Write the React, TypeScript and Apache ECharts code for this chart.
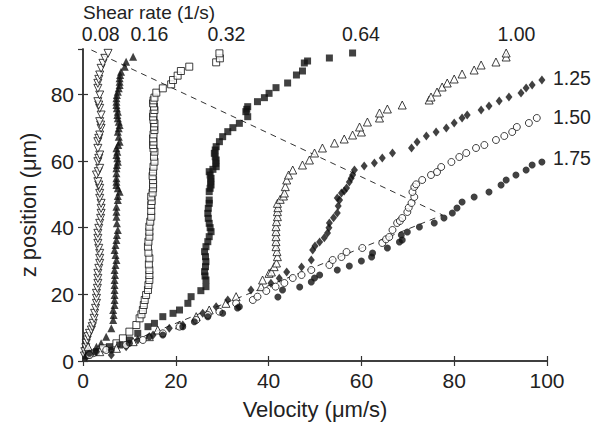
import React, { useEffect, useRef } from "react";
import * as echarts from "echarts";

// ---- data (velocity µm/s, z position µm) ----
const shear008: number[][] = [
  [0.3, 1.5], [0.4, 2.8], [0.6, 4.0], [0.7, 5.3], [0.9, 6.3], [1.1, 7.3], [1.4, 8.3], [1.8, 9.3], [2.0, 10.3],
  [2.2, 11.3], [2.4, 12.8], [2.5, 14.3], [2.7, 15.8], [2.9, 17.3], [2.9, 18.8], [2.9, 20.3], [3.1, 21.8],
  [3.2, 23.3], [3.2, 24.8], [3.2, 26.3], [3.4, 27.8], [3.6, 29.3], [3.6, 30.8], [3.6, 32.3], [3.4, 33.8],
  [3.2, 35.3], [3.2, 36.8], [3.2, 38.3], [3.4, 39.8], [3.6, 41.3], [3.8, 42.8], [3.9, 44.3], [3.9, 45.8],
  [3.9, 47.3], [3.6, 48.8], [3.6, 50.3], [3.6, 51.8], [3.4, 52.8], [3.2, 53.8], [2.9, 55.8], [3.3, 56.8],
  [3.6, 57.8], [3.2, 59.8], [3.4, 60.8], [3.6, 61.8], [3.2, 63.8], [3.2, 65.8], [3.4, 66.8], [3.6, 67.8],
  [3.9, 69.8], [3.8, 70.8], [3.6, 71.8], [3.9, 73.8], [3.6, 75.8], [3.4, 76.8], [3.2, 77.8], [3.6, 79.8],
  [3.2, 81.8], [3.2, 83.3], [3.4, 84.5], [3.6, 85.8], [3.9, 87.8], [4.3, 89.3], [4.7, 90.8], [5.4, 92.3], [6.5, 93.8],
];
const shear016: number[][] = [
  [0.7, 1.8], [1.4, 2.8], [2.9, 4.3], [3.9, 5.3], [5.0, 7.3], [6.1, 9.8], [6.5, 12.3], [6.6, 13.8], [6.5, 15.3],
  [6.8, 16.8], [6.8, 18.3], [6.8, 19.8], [6.8, 21.3], [6.8, 22.8], [6.8, 24.3], [6.9, 25.8], [6.8, 27.3],
  [7.0, 28.8], [7.2, 30.3], [7.0, 31.8], [6.8, 33.3], [7.0, 34.8], [7.2, 36.3], [7.3, 37.8], [7.5, 39.3],
  [7.3, 41.3], [7.2, 43.3], [7.2, 44.8], [7.2, 46.3], [7.5, 48.3], [7.5, 49.5], [7.9, 50.8], [7.5, 51.8],
  [7.2, 52.8], [7.2, 53.8], [7.2, 54.8], [7.2, 56.3], [7.2, 57.8], [7.3, 58.8], [7.5, 59.8], [7.4, 60.8],
  [7.2, 61.8], [7.4, 62.8], [7.2, 63.8], [7.6, 64.8], [7.9, 65.8], [7.7, 67.3], [7.5, 68.8], [7.7, 69.8],
  [7.9, 70.8], [7.7, 71.8], [7.5, 72.8], [7.4, 73.8], [7.5, 74.8], [7.3, 75.8], [7.2, 76.8], [7.2, 77.8],
  [7.2, 78.8], [7.3, 79.8], [7.5, 80.8], [7.7, 81.8], [7.9, 82.8], [7.9, 83.8], [7.9, 84.8], [8.0, 85.8],
  [8.2, 86.8], [9.0, 88.3], [9.3, 89.8], [10.8, 91.3], [11.1, 93.8],
];
const shear032: number[][] = [
  [1.4, 2.3], [4.3, 3.8], [7.2, 5.3], [8.6, 6.8], [10.0, 8.8], [11.5, 10.8], [12.2, 12.8], [12.6, 14.0],
  [12.9, 15.3], [13.1, 16.8], [13.3, 18.3], [13.6, 19.8], [14.0, 21.3], [14.1, 22.8], [14.3, 24.3], [14.3, 25.8],
  [14.3, 27.3], [14.2, 29.0], [14.3, 30.8], [14.1, 32.5], [14.0, 34.3], [14.1, 35.8], [14.3, 37.3], [14.3, 38.8],
  [14.3, 40.3], [14.5, 41.8], [14.7, 43.3], [14.7, 45.0], [14.7, 46.8], [14.8, 48.0], [14.7, 49.3], [15.0, 50.5],
  [15.1, 51.8], [15.1, 53.0], [15.1, 54.3], [15.0, 55.5], [15.1, 56.8], [15.2, 58.3], [15.4, 59.8], [15.3, 61.3],
  [15.4, 62.8], [15.2, 63.8], [15.1, 64.8], [15.2, 65.8], [15.1, 66.8], [15.2, 68.0], [15.4, 69.3], [15.3, 70.3],
  [15.4, 71.3], [15.2, 72.3], [15.1, 73.3], [15.2, 74.3], [15.4, 75.3], [15.3, 76.3], [15.1, 77.3], [15.2, 78.2],
  [15.4, 79.0], [15.8, 80.5], [17.2, 81.8], [19.0, 83.0], [19.4, 84.3], [20.4, 85.6], [21.1, 87.0], [22.9, 88.3],
  [28.7, 89.6], [29.5, 90.8], [29.4, 92.3], [29.4, 93.8],
];
const shear064: number[][] = [
  [1.1, 1.8], [2.9, 2.8], [5.7, 4.3], [7.9, 4.8], [10.0, 6.3], [11.8, 8.3], [14.0, 10.3], [15.4, 11.3],
  [17.2, 13.3], [19.4, 14.3], [20.8, 15.3], [22.6, 17.3], [23.3, 19.3], [25.4, 21.1], [26.5, 22.3], [26.5, 24.3],
  [26.3, 25.5], [26.2, 26.8], [26.4, 28.3], [26.5, 29.8], [26.4, 31.3], [26.2, 32.8], [26.5, 34.3], [26.9, 35.8],
  [27.2, 37.3], [27.6, 38.8], [27.4, 40.0], [27.2, 41.3], [27.0, 42.8], [26.9, 44.3], [27.0, 45.8], [27.2, 47.3],
  [27.2, 48.3], [27.2, 50.8], [27.4, 51.8], [27.6, 52.8], [27.5, 53.8], [27.6, 54.8], [27.4, 55.8], [27.2, 56.8],
  [28.0, 57.5], [28.7, 58.3], [28.6, 59.3], [28.7, 60.3], [28.5, 61.3], [28.3, 62.3], [28.5, 63.3], [28.7, 64.3],
  [29.4, 65.8], [30.1, 67.3], [31.2, 68.8], [32.3, 70.0], [33.7, 71.3], [35.5, 73.3], [35.1, 74.8], [35.3, 75.5],
  [35.5, 76.3], [37.6, 77.8], [39.1, 79.0], [40.1, 80.3], [41.6, 82.0], [44.1, 83.4], [46.0, 85.8], [47.3, 87.0],
  [47.7, 89.4], [48.4, 90.0], [53.1, 90.9], [58.1, 92.4], [58.5, 93.8],
];
const shear100: number[][] = [
  [1.1, 4.3], [3.6, 2.8], [7.2, 3.8], [10.8, 5.8], [14.3, 7.3], [16.1, 9.3], [20.8, 10.8], [24.4, 13.3],
  [27.2, 15.3], [30.8, 17.3], [33.0, 19.3], [38.4, 22.3], [38.7, 24.3], [40.1, 26.3], [40.6, 26.7], [41.2, 28.3],
  [41.7, 29.4], [41.9, 31.3], [41.8, 32.8], [41.6, 34.3], [41.6, 35.8], [41.6, 37.3], [41.6, 38.8], [41.6, 40.3],
  [41.7, 41.8], [41.9, 43.3], [41.9, 44.8], [42.0, 46.0], [41.9, 47.3], [42.5, 48.5], [43.2, 49.5], [43.4, 50.4],
  [43.6, 52.3], [43.9, 54.3], [44.3, 55.8], [45.2, 57.3], [47.3, 58.8], [48.8, 60.3], [49.9, 62.4], [51.6, 63.9],
  [54.2, 65.4], [56.3, 66.6], [58.1, 67.8], [60.0, 68.7], [59.6, 70.2], [61.3, 71.7], [63.9, 72.9], [63.9, 74.4],
  [65.6, 75.6], [68.8, 76.8], [74.6, 78.3], [75.0, 79.2], [76.3, 80.7], [77.4, 82.2], [78.5, 83.4], [80.0, 84.6],
  [81.7, 86.1], [84.3, 87.3], [85.8, 88.8], [89.0, 89.7], [91.2, 91.2], [91.2, 92.4], [90.8, 93.9],
];
const shear125: number[][] = [
  [0.7, 1.3], [2.9, 2.8], [6.1, 1.8], [9.3, 4.3], [11.8, 6.3], [15.1, 7.8], [18.6, 9.8], [21.5, 10.8],
  [25.8, 14.3], [28.7, 16.3], [31.2, 18.3], [36.2, 21.3], [40.5, 23.3], [42.3, 24.8], [43.9, 26.7], [47.1, 28.2],
  [49.2, 30.3], [49.5, 33.3], [50.0, 34.5], [51.0, 35.7], [52.0, 37.0], [52.7, 38.4], [53.0, 40.0], [53.1, 41.4],
  [54.0, 43.0], [54.8, 44.4], [55.0, 46.5], [55.3, 48.3], [54.8, 48.9], [55.7, 50.4], [56.3, 51.0], [56.8, 51.9],
  [57.4, 53.7], [57.8, 54.8], [58.1, 55.8], [58.5, 57.3], [60.6, 58.5], [62.8, 59.4], [64.5, 60.9], [66.7, 62.4],
  [70.8, 63.9], [72.0, 65.7], [74.0, 67.5], [76.1, 68.7], [78.3, 69.9], [80.0, 71.4], [81.7, 72.9], [82.8, 73.8],
  [85.8, 75.3], [87.5, 76.5], [89.7, 78.0], [91.8, 79.2], [94.4, 80.4], [95.5, 81.9], [96.8, 82.8], [98.9, 84.3],
];
const shear150: number[][] = [
  [1.4, 1.8], [5.0, 3.3], [9.3, 4.8], [12.9, 6.3], [17.2, 8.3], [20.8, 10.3], [24.4, 12.3], [26.9, 13.8],
  [29.4, 14.8], [33.0, 17.3], [36.6, 18.3], [37.6, 19.3], [39.5, 21.0], [41.5, 22.3], [43.4, 23.4], [45.2, 24.9],
  [47.1, 25.8], [49.2, 27.3], [53.1, 28.8], [53.8, 30.3], [55.7, 31.2], [56.8, 32.7], [60.2, 33.9], [64.5, 35.4],
  [65.3, 36.5], [66.0, 37.2], [66.7, 39.3], [67.7, 41.4], [68.3, 42.0], [68.8, 42.9], [69.9, 44.7], [70.2, 46.0],
  [70.8, 47.4], [71.4, 49.2], [71.0, 50.7], [71.4, 52.2], [71.8, 53.0], [73.1, 54.3], [75.0, 55.8], [76.3, 56.7],
  [77.2, 58.2], [79.4, 59.7], [81.1, 61.2], [82.6, 62.4], [84.7, 63.9], [86.5, 64.8], [89.0, 66.3], [90.8, 67.5],
  [92.5, 68.7], [93.5, 70.2], [96.1, 71.4], [97.8, 72.9],
];
const shear175: number[][] = [
  [1.4, 2.3], [6.1, 3.3], [10.0, 5.3], [14.3, 7.3], [17.2, 7.8], [21.5, 10.3], [24.0, 11.8], [26.9, 13.3],
  [30.1, 14.3], [33.3, 15.9], [33.7, 16.3], [42.0, 19.2], [43.0, 21.3], [46.7, 22.2], [49.2, 23.7], [49.9, 24.9],
  [51.0, 25.8], [54.8, 27.3], [57.4, 28.5], [60.0, 30.0], [62.2, 31.2], [62.4, 32.4], [65.6, 33.9], [68.2, 35.7],
  [68.8, 36.3], [68.6, 37.8], [69.9, 38.7], [72.5, 40.2], [75.7, 41.4], [77.8, 42.9], [79.6, 44.4], [80.6, 45.9],
  [81.7, 47.7], [84.3, 49.2], [87.5, 50.7], [90.1, 52.8], [91.2, 54.3], [93.3, 55.8], [95.5, 57.3], [96.8, 58.8],
  [98.9, 59.7],
];
// dashed guide lines
const guideLine: number[][] = [[1.8, 93.3], [77.5, 43.8], [0, 0]];

// annotation labels
const topLabels = ["0.08", "0.16", "0.32", "0.64", "1.00"];
const topLabelAt = [3.8, 14.3, 30.9, 59.9, 93.4];
const rightLabels = ["1.25", "1.50", "1.75"];
const rightLabelAt = [85.0, 73.3, 61.0];

const FONT = "'Liberation Sans', Arial, Helvetica, sans-serif";
const INK = "#111";
const TXT = "#222";

const nearestLabel = (vals: number[], labels: string[]) => (v: number) => {
  let best = 0;
  for (let i = 1; i < vals.length; i++) if (Math.abs(vals[i] - v) < Math.abs(vals[best] - v)) best = i;
  return Math.abs(vals[best] - v) < 0.5 ? labels[best] : "";
};

const marker = (
  name: string,
  data: number[][],
  symbol: string,
  size: number | number[],
  filled: boolean,
  rotate = 0
) => ({
  type: "scatter",
  name,
  data,
  symbol,
  symbolSize: size,
  symbolRotate: rotate,
  xAxisIndex: 0,
  yAxisIndex: 0,
  silent: true,
  itemStyle: filled
    ? { color: INK, borderWidth: 0 }
    : { color: "#fff", borderColor: INK, borderWidth: 1 },
});

export default function App() {
  const ref = useRef<HTMLDivElement>(null);
  useEffect(() => {
    if (!ref.current) return;
    const chart = echarts.init(ref.current, undefined, { renderer: "svg" });
    const axisLine = { show: true, lineStyle: { color: "#333", width: 1.5 } };
    const tick = { show: true, inside: true, length: 5, lineStyle: { color: "#333", width: 1.2 } };
    chart.setOption({
      animation: false,
      backgroundColor: "#fff",
      grid: { left: 83, right: 56, top: 49, bottom: 63, containLabel: false, outerBoundsMode: "none" },
      xAxis: [
        {
          type: "value",
          position: "bottom",
          min: 0,
          max: 100,
          interval: 20,
          axisLine,
          axisTick: tick,
          splitLine: { show: false },
          axisLabel: { color: TXT, fontSize: 21, fontFamily: FONT, margin: 9 },
          name: "Velocity (μm/s)",
          nameLocation: "middle",
          nameGap: 37,
          nameTextStyle: { color: TXT, fontSize: 22, fontFamily: FONT },
        },
        {
          type: "value",
          position: "top",
          min: 0,
          max: 100,
          interval: 20,
          axisLine,
          axisTick: tick,
          splitLine: { show: false },
          axisLabel: {
            show: true,
            customValues: topLabelAt,
            formatter: nearestLabel(topLabelAt, topLabels),
            color: TXT,
            fontSize: 19.5,
            fontFamily: FONT,
            margin: 5,
          },
        },
      ],
      yAxis: [
        {
          type: "value",
          position: "left",
          min: 0,
          max: 93.6,
          interval: 20,
          axisLine,
          axisTick: tick,
          splitLine: { show: false },
          axisLabel: { color: TXT, fontSize: 21, fontFamily: FONT, margin: 9, showMaxLabel: false },
          name: "z position (μm)",
          nameLocation: "middle",
          nameGap: 42,
          nameTextStyle: { color: TXT, fontSize: 22, fontFamily: FONT },
        },
        {
          type: "value",
          position: "right",
          min: 0,
          max: 93.6,
          interval: 20,
          axisLine,
          axisTick: tick,
          splitLine: { show: false },
          axisLabel: {
            show: true,
            customValues: rightLabelAt,
            formatter: nearestLabel(rightLabelAt, rightLabels),
            color: TXT,
            fontSize: 19.5,
            fontFamily: FONT,
            margin: 6,
          },
        },
      ],
      graphic: [
        {
          type: "text",
          left: 83,
          top: 3,
          style: { text: "Shear rate (1/s)", fill: TXT, fontSize: 19, fontFamily: FONT },
        },
      ],
      series: [
        {
          type: "line",
          data: guideLine,
          xAxisIndex: 0,
          yAxisIndex: 0,
          symbol: "none",
          silent: true,
          z: 1,
          lineStyle: { color: "#333", width: 1, type: [6, 5] },
        },
        marker("0.08", shear008, "triangle", 8, false, 180),
        marker("0.16", shear016, "triangle", 8, true),
        marker("0.32", shear032, "rect", 7, false),
        marker("0.64", shear064, "rect", 7, true),
        marker("1.00", shear100, "triangle", 8, false),
        marker("1.25", shear125, "diamond", [7, 9], true),
        marker("1.50", shear150, "circle", 7, false),
        marker("1.75", shear175, "circle", 7, true),
      ],
    });
    return () => chart.dispose();
  }, []);
  return (
    <div
      ref={ref}
      style={{ position: "absolute", left: 0, top: 0, width: 603, height: 424, background: "#fff" }}
    />
  );
}
